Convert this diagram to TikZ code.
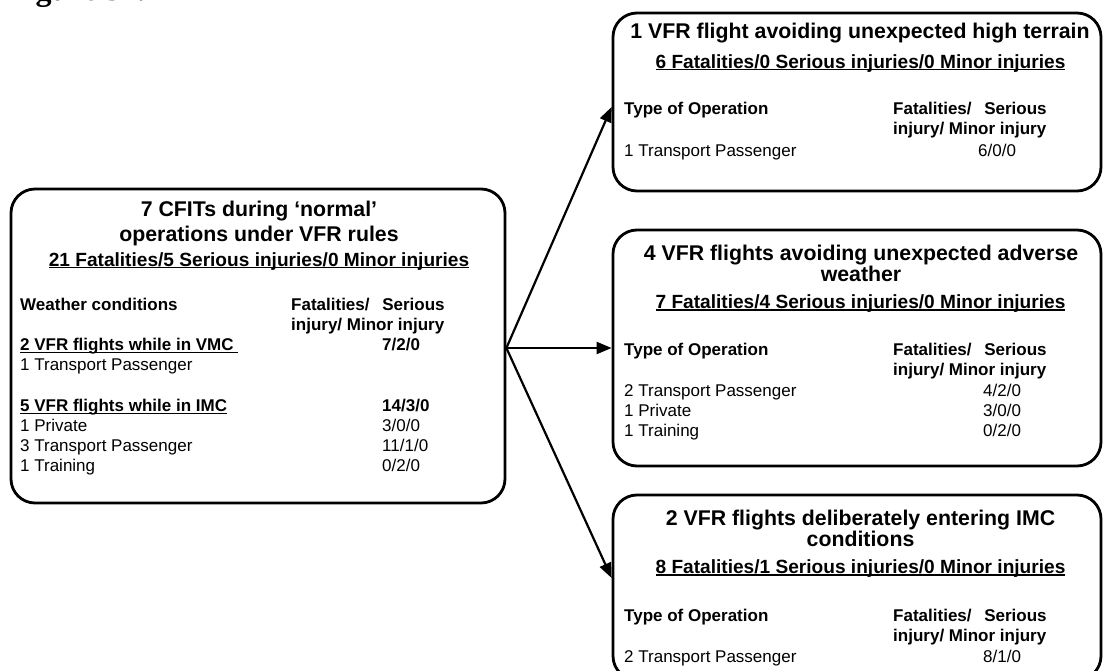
\documentclass[tikz,border=0pt]{standalone}
\usepackage{fontspec}
\setmainfont{Liberation Sans}
\newfontfamily\figserif{Liberation Serif}
\usetikzlibrary{arrows.meta}
\newsavebox\ulbox
\newcommand\myul[1]{\sbox\ulbox{#1}\rlap{\rule[-2.2pt]{\wd\ulbox}{1.4pt}}\usebox\ulbox}
\tikzset{
  box/.style={draw=black, line width=2.8pt, rounded corners=24pt, inner sep=0pt},
  arr/.style={line width=2.2pt, -{Triangle[length=15pt,width=12pt]}},
  ttl/.style={anchor=base, inner sep=0pt, font=\fontsize{21.3}{24}\selectfont\bfseries},
  sub/.style={anchor=base, inner sep=0pt, font=\fontsize{19.1}{22}\selectfont\bfseries},
  hd/.style={anchor=base west, inner sep=0pt, font=\fontsize{17}{20}\selectfont\bfseries},
  bd/.style={anchor=base west, inner sep=0pt, font=\fontsize{17}{20}\selectfont},
}
\begin{document}
\begin{tikzpicture}[x=1pt,y=-1pt]
\useasboundingbox (0,0) rectangle (1103,671);
\node[anchor=base west, inner sep=0pt, font={\figserif\bfseries\fontsize{32}{36}\selectfont}] (fig) at (7,0.5) {Figure 32.};

% boxes
\node[box, minimum width=494pt, minimum height=314pt] (L) at (258,346) {};
\node[box, minimum width=488pt, minimum height=178pt] (T) at (857,102) {};
\node[box, minimum width=488pt, minimum height=236pt] (M) at (857,348) {};
\node[box, minimum width=488pt, minimum height=185pt] (B) at (857,587.5) {};

% arrows
\draw[arr] ([yshift=-2pt]L.east) -- ([yshift=-5pt]T.west);
\draw[arr] ([yshift=-2pt]L.east) -- (M.west);
\draw[arr] ([yshift=-2pt]L.east) -- ([yshift=9.5pt]B.west);

% left box text
\node[ttl] (l1) at (259,216.7) {7 CFITs during ‘normal’};
\node[ttl] (l2) at (259,241.7) {operations under VFR rules};
\node[sub] (l3) at (259,266) {\myul{21 Fatalities/5 Serious injuries/0 Minor injuries}};
\node[hd] (l4) at (20,310) {Weather conditions};
\node[hd] (l5) at (291,310) {Fatalities/\hspace{12.7pt}Serious};
\node[hd] (l6) at (291,330) {injury/ Minor injury};
\node[hd] (l7) at (20,350.7) {\myul{2 VFR flights while in VMC\ }};
\node[hd] (l8) at (382,350.7) {7/2/0};
\node[bd] (l9) at (20,370.7) {1 Transport Passenger};
\node[hd] (l10) at (20,411.7) {\myul{5 VFR flights while in IMC}};
\node[hd] (l11) at (382,411.7) {14/3/0};
\node[bd] (l12) at (20,431.7) {1 Private};
\node[bd] (l13) at (382,431.7) {3/0/0};
\node[bd] (l14) at (20,451.7) {3 Transport Passenger};
\node[bd] (l15) at (382,451.7) {11/1/0};
\node[bd] (l16) at (20,471.7) {1 Training};
\node[bd] (l17) at (382,471.7) {0/2/0};

% top right box text
\node[ttl] (t1) at (860,38.3) {1 VFR flight avoiding unexpected high terrain};
\node[sub] (t2) at (860.5,68.3) {\myul{6 Fatalities/0 Serious injuries/0 Minor injuries}};
\node[hd] (t3) at (624,115) {Type of Operation};
\node[hd] (t4) at (893,115) {Fatalities/\hspace{12.7pt}Serious};
\node[hd] (t5) at (893,135) {injury/ Minor injury};
\node[bd] (t6) at (624,156.7) {1 Transport Passenger};
\node[bd] (t7) at (978,156.7) {6/0/0};

% middle box text
\node[ttl] (m1) at (861,260) {4 VFR flights avoiding unexpected adverse};
\node[ttl] (m2) at (861,281.7) {weather};
\node[sub] (m3) at (860.5,308.3) {\myul{7 Fatalities/4 Serious injuries/0 Minor injuries}};
\node[hd] (m4) at (624,355) {Type of Operation};
\node[hd] (m5) at (893,355) {Fatalities/\hspace{12.7pt}Serious};
\node[hd] (m6) at (893,375) {injury/ Minor injury};
\node[bd] (m7) at (624,396.7) {2 Transport Passenger};
\node[bd] (m8) at (983,396.7) {4/2/0};
\node[bd] (m9) at (624,416.7) {1 Private};
\node[bd] (m10) at (983,416.7) {3/0/0};
\node[bd] (m11) at (624,436.7) {1 Training};
\node[bd] (m12) at (983,436.7) {0/2/0};

% bottom box text
\node[ttl] (b1) at (860.5,525) {2 VFR flights deliberately entering IMC};
\node[ttl] (b2) at (860.5,546.7) {conditions};
\node[sub] (b3) at (860.5,573.3) {\myul{8 Fatalities/1 Serious injuries/0 Minor injuries}};
\node[hd] (b4) at (624,621.7) {Type of Operation};
\node[hd] (b5) at (893,621.7) {Fatalities/\hspace{12.7pt}Serious};
\node[hd] (b6) at (893,641.7) {injury/ Minor injury};
\node[bd] (b7) at (624,662.7) {2 Transport Passenger};
\node[bd] (b8) at (983,662.7) {8/1/0};
\end{tikzpicture}
\end{document}
